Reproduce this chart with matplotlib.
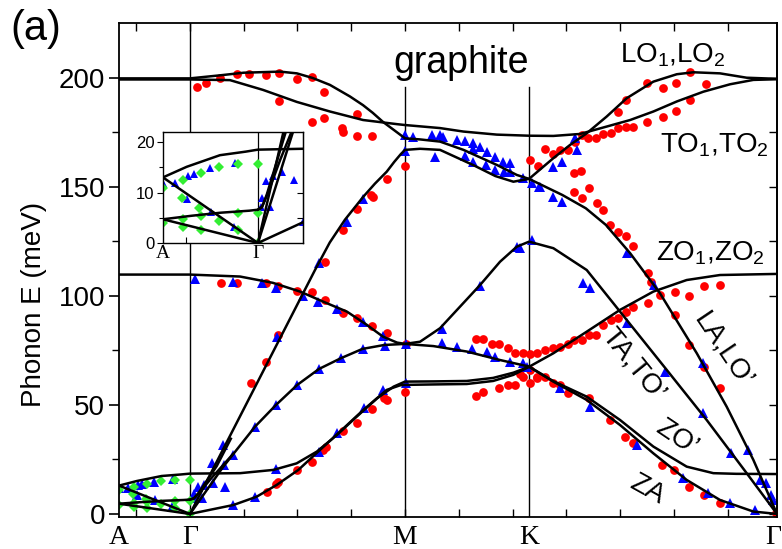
import numpy as np
import matplotlib
matplotlib.use('Agg')
import matplotlib.pyplot as plt

plt.rcParams['font.family'] = 'Liberation Sans'
plt.rcParams['mathtext.default'] = 'regular'

# high symmetry points along the path (Gamma-M = 1)
q_A, q_G, q_M, q_K, q_G2 = 0.0, 0.33, 1.33, 1.907, 3.06
pt_q = [q_A, q_G, q_M, q_K, 3.043]
pt_lab = ['A', 'Γ', 'M', 'K', 'Γ']

# calculated branches (black lines)
to_q = [0, 0.33, 0.516, 0.67, 0.827, 0.981, 1.135, 1.293, 1.33, 1.493, 1.602, 1.757, 1.907,
        2.02, 2.144, 2.268, 2.377, 2.485, 2.594, 2.718, 2.842, 2.95, 3.06]
to_E = [199.3, 199.3, 199.0, 194.5, 189.0, 184.6, 180.7, 178.8, 178.4, 177.0, 175.4, 174.0, 173.5,
        173.4, 174.3, 177.7, 180.7, 184.6, 189.2, 193.7, 197.1, 199.1, 199.4]

lo_q = [0, 0.33, 0.47, 0.58, 0.749, 0.827, 0.90, 0.981, 1.074, 1.135, 1.18, 1.228, 1.28, 1.33,
        1.40, 1.493, 1.602, 1.757, 1.85, 1.907, 2.062, 2.171, 2.264, 2.377, 2.516, 2.687, 2.826,
        2.95, 3.06]
lo_E = [199.8, 199.8, 201.2, 202.4, 202.9, 202.1, 200.0, 196.8, 191.5, 187.5, 184.0, 179.8, 176.0,
        172.3, 171.8, 170.8, 167.0, 160.1, 155.5, 153.7, 146.3, 140.2, 132.6, 119.6, 101.2, 73.7,
        49.2, 24.8, 0.0]

la_q = [0.33, 0.912, 0.98, 1.051, 1.136, 1.19, 1.245, 1.28, 1.31, 1.33, 1.40, 1.493, 1.648, 1.75,
        1.834, 1.907, 2.02, 2.098, 2.175, 2.268, 2.361, 2.485, 2.594, 2.671, 2.795, 2.919, 3.06]
la_E = [0, 112, 124.5, 135, 145.5, 151.5, 157, 161.5, 165, 167, 167.5, 167, 160, 155,
        152.4, 153.7, 163.2, 169.3, 174.6, 182.3, 190.7, 198.3, 201.7, 202.6, 202.1, 200.1, 199.6]

zo_q = [0, 0.33, 0.563, 0.716, 0.842, 0.949, 1.06, 1.153, 1.228, 1.293, 1.33, 1.40, 1.493, 1.586,
        1.679, 1.772, 1.85, 1.907, 2.02, 2.175, 2.361, 2.547, 2.733, 2.919, 3.06]
zo_E = [109.8, 109.8, 108.9, 106.0, 102.0, 97.4, 92.8, 86.7, 81.3, 78.6, 78.0, 79.0, 85.2, 95.1,
        105.0, 115.7, 122.6, 124.9, 121.9, 111.9, 89.0, 66.1, 43.1, 18.7, 0.0]

ta_q = [0.33, 0.485, 0.633, 0.73, 0.829, 0.93, 1.031, 1.132, 1.233, 1.33, 1.462, 1.617, 1.772,
        1.907, 2.02, 2.175, 2.33, 2.485, 2.64, 2.764, 2.87, 3.06]
ta_E = [0, 21.7, 40.1, 50, 59.2, 66.5, 71.4, 75.7, 77.5, 78, 77, 74.5, 70.6,
        67.6, 60.9, 53.8, 43.1, 30.9, 21.7, 18.7, 18.4, 18.3]

za_q = [0.33, 0.532, 0.64, 0.733, 0.834, 0.935, 1.028, 1.136, 1.245, 1.307, 1.33, 1.462, 1.617,
        1.74, 1.834, 1.907, 2.02, 2.175, 2.33, 2.485, 2.64, 2.795, 2.95, 3.06]
za_E = [0, 4.1, 7.9, 13.3, 20.2, 29.4, 37.8, 47.7, 56.9, 59.0, 59.2, 59.4, 59.6,
        61.0, 63.8, 67.5, 60.7, 52.3, 40.8, 27.8, 15.6, 6.4, 1.1, 0]

zop_q = [0, 0.0825, 0.198, 0.287, 0.33, 0.563, 0.718, 0.826, 0.92, 1.013, 1.105, 1.2, 1.277, 1.33,
         1.462, 1.617, 1.74, 1.834, 1.907, 2.02, 2.175, 2.33, 2.485, 2.64, 2.795, 3.06]
zop_E = [13.0, 15.1, 17.4, 18.1, 18.5, 18.7, 20.2, 23.2, 28.6, 36.2, 44.6, 53.0, 58.4, 60.7,
         60.8, 61.0, 62.4, 64.8, 67.5, 73.7, 83.6, 93.6, 102.0, 107.3, 109.6, 110.1]

# folded modes along A-Gamma
fa_q = [0, 0.33]
fa_E = [13.0, 0]
fb_q = [0, 0.33]
fb_E = [4.7, 0]
sh_q = [0, 0.1, 0.2, 0.3, 0.33, 0.347, 0.369, 0.454, 0.52]
sh_E = [4.7, 5.4, 6.0, 6.4, 6.6, 7.0, 9.5, 21.9, 34.5]
tp_q = [0.33, 0.35, 0.38, 0.43, 0.485, 0.53]
tp_E = [6.6, 7.3, 10.5, 16.5, 22.5, 27.5]

# measured points
red_q = [0.361, 0.405, 0.470, 0.547, 0.606, 0.684, 0.746, 0.746, 0.826, 0.896, 0.955, 0.955, 0.896,
         1.039, 1.043, 1.105, 1.105, 1.175,
         1.33, 1.245, 1.171, 1.183, 1.105, 1.043, 0.958, 0.741, 0.684, 0.612,
         0.474, 0.547, 0.684, 0.741, 0.829, 0.896, 0.958, 1.043, 1.105, 1.175, 1.245, 1.335,
         1.245, 1.23, 1.175, 1.105, 1.043, 0.963, 0.950, 0.896, 0.829, 0.741, 0.730, 0.687,
         1.33, 1.660, 1.695, 1.733, 1.769, 1.808, 1.842, 1.878, 1.912, 1.946, 1.981,
         1.660, 1.695, 1.769, 1.808, 1.842, 1.878, 1.912, 1.912, 1.946, 1.981,
         1.909, 1.950, 1.981, 2.017, 2.051, 2.087, 2.121, 2.152, 2.183, 2.219, 2.253, 2.287, 2.322,
         2.358, 2.392, 2.457, 2.529, 2.591, 2.656, 2.319, 2.358, 2.454, 2.529, 2.591, 2.656, 2.730,
         2.116, 2.149, 2.116, 2.152, 2.188, 2.222, 2.253, 2.284, 2.322, 2.358, 2.392, 2.459, 2.473,
         2.586, 2.653, 2.721, 2.795,
         2.017, 2.051, 2.087, 2.116, 2.152, 2.188, 2.219, 2.253, 2.287, 2.322, 2.358, 2.392, 2.459,
         2.516, 2.586, 2.653, 2.721, 2.795,
         1.865, 1.943, 2.017, 2.051, 2.087, 2.188, 2.284, 2.353, 2.392, 2.524, 2.579, 2.653, 2.721,
         2.795, 3.055]
red_E = [196.0, 197.9, 199.8, 201.8, 201.8, 201.4, 202.1, 189.4, 199.5, 200.3, 193.7, 181.5, 179.7,
         176.9, 175.4, 183.5, 173.5, 173.4,
         159.8, 153.7, 146.3, 145.3, 139.8, 130.3, 115.7, 82.1, 69.9, 59.9,
         106.1, 105.8, 105.8, 104.6, 102.4, 102.0, 98.2, 92.1, 90.1, 86.2, 83.2, 78.0,
         52.3, 53.1, 48.0, 41.9, 38.2, 30.9, 29.4, 24.0, 20.2, 14.8, 13.8, 10.2,
         56.1, 80.1, 80.1, 77.8, 77.8, 76.0, 73.7, 73.7, 73.4, 73.7, 75.2,
         54.1, 56.1, 57.9, 59.2, 59.2, 63.0, 60.0, 66.0, 63.0, 62.7,
         162.4, 159.8, 167.3, 165.0, 167.0, 167.0, 170.5, 173.8, 172.3, 172.3, 174.3, 174.6, 177.2,
         177.6, 177.6, 180.0, 182.3, 184.9, 189.9, 184.6, 189.9, 197.6, 195.3, 197.6, 202.6, 197.1,
         156.3, 157.3, 147.6, 145.1, 149.7, 142.5, 139.4, 132.6, 129.5, 127.5, 122.9, 110.4, 106.6,
         91.3, 77.5, 67.6, 57.7,
         76.0, 76.5, 78.0, 79.8, 79.8, 82.1, 82.1, 86.7, 89.0, 89.8, 92.8, 94.8, 96.9,
         100.5, 102.0, 100.0, 104.7, 105.0,
         64.2, 62.2, 60.0, 59.2, 55.4, 53.1, 43.1, 35.5, 32.7, 22.5, 20.2, 12.5, 8.7,
         4.9, 0.5]

blue_q = [0.353, 0.529, 0.664, 0.730, 0.857, 0.927, 1.013, 1.133, 1.229, 1.335,
          1.237, 1.133, 1.031, 0.930, 0.829, 0.730, 0.633, 0.532, 0.486, 0.431, 0.482, 0.385,
          0.493, 0.439,
          0.737, 0.932, 1.059, 1.136,
          0.532, 0.633, 0.730, 0.932, 1.013, 1.137, 1.229, 1.335,
          1.33, 1.369, 1.454, 1.493, 1.509, 1.574, 1.609, 1.645, 1.679, 1.713, 1.749, 1.788, 1.819,
          1.33, 1.470, 1.609, 1.648, 1.709, 1.749, 1.791, 1.819, 1.645, 1.881, 1.919, 1.955, 1.958,
          2.020, 2.059, 2.059, 2.020, 2.129, 2.121,
          1.501, 1.574, 1.64, 1.71, 1.749, 1.816, 1.881, 1.896, 1.501, 1.679, 1.85, 1.919,
          1.865, 2.159, 2.191, 2.364, 2.488, 2.364, 2.540, 2.714, 2.714, 2.845, 2.927, 2.981, 3.009,
          3.031, 3.040, 2.051, 2.191, 2.408, 2.625, 2.741, 2.842, 2.958,
          0.001, 0.042, 0.088, 0.108, 0.163, 0.25, 0.082, 0.166, 0.247,
          0.366, 0.396, 0.349, 0.345]
blue_E = [107.7, 106.6, 105.8, 103.5, 100.0, 97.4, 93.9, 88.2, 81.6, 78.0,
          77.1, 75.7, 71.4, 66.5, 59.2, 50.0, 40.1, 27.1, 22.5, 23.2, 31.6, 7.2,
          12.5, 14.1,
          81.3, 115.3, 134.1, 144.3,
          4.1, 7.9, 20.5, 28.6, 37.0, 48.5, 56.9, 60.0,
          173.9, 173.1, 173.9, 173.9, 173.1, 171.6, 171.2, 170.0, 168.5, 166.2, 163.9, 161.6, 160.9,
          166.5, 163.6, 164.2, 161.6, 160.1, 157.8, 157.0, 157.0, 167.3, 154.0, 151.7, 149.9, 150.1,
          145.6, 143.3, 161.6, 159.3, 167.0, 172.3,
          78.3, 76.8, 75.7, 74.5, 72.2, 69.9, 69.1, 67.3, 84.7, 104.6, 122.3, 125.7,
          121.9, 106.1, 103.5, 119.6, 105.0, 87.5, 65.3, 69.1, 46.2, 27.8, 29.4, 15.6, 14.1,
          8.7, 6.4, 57.7, 49.2, 31.6, 16.4, 9.5, 4.9, 1.8,
          11.8, 11.9, 13.3, 13.7, 14.8, 15.8, 8.8, 6.2, 3.1,
          12.3, 13.3, 9.0, 7.1]

green_q = [0.001, 0.068, 0.131, 0.195, 0.262, 0.329, 0.065, 0.126, 0.001, 0.068, 0.131, 0.195,
           0.262, 0.329, 0.068, 0.131, 0.262, 0.329]
green_E = [10.8, 12.5, 13.8, 15.1, 15.6, 15.6, 9.0, 6.9, 4.0, 4.8, 5.4, 4.4,
           6.0, 6.0, 3.2, 2.6, 2.6, 0.0]

branches = [(to_q, to_E), (lo_q, lo_E), (la_q, la_E), (zo_q, zo_E), (ta_q, ta_E),
            (za_q, za_E), (zop_q, zop_E), (fa_q, fa_E), (fb_q, fb_E), (sh_q, sh_E), (tp_q, tp_E)]


def draw(ax, ms=1.0):
    ax.plot(red_q, red_E, 'o', color='#ff0000', ms=6.3 * ms, mew=0, zorder=2)
    ax.plot(blue_q, blue_E, '^', color='#0000ff', ms=6.8 * ms, mew=0, zorder=2)
    ax.plot(green_q, green_E, 'D', color='#33ee33', ms=5.2 * ms, mew=0, zorder=2)
    for q, e in branches:
        ax.plot(q, e, color='black', lw=1.8, zorder=3, solid_joinstyle='round')


fig = plt.figure(figsize=(7.82, 5.49), dpi=100)
ax = fig.add_axes([0.1522, 0.0583, 0.8414, 0.8998])
draw(ax)

ax.set_xlim(0, 3.06)
ax.set_ylim(-1.4, 225.2)
ax.axvline(q_G, color='black', lw=1.0, zorder=1)
ax.axvline(q_M, ymax=0.87, color='black', lw=1.0, zorder=1)
ax.axvline(q_K, ymax=0.87, color='black', lw=1.0, zorder=1)

# ticks
xt = [q_G + 0.25 * k for k in range(-1, 11)]
ax.set_xticks(xt, labels=[''] * len(xt))
ax.tick_params(axis='x', direction='in', top=True, length=6, width=1.0)
ax.set_yticks([0, 50, 100, 150, 200])
ax.set_yticks([25, 75, 125, 175], minor=True)
ax.tick_params(axis='y', which='major', direction='out', length=7, width=1.2, labelsize=20, pad=3)
ax.tick_params(axis='y', which='minor', direction='out', length=5, width=1.0)
sec = ax.secondary_yaxis('right')
sec.set_yticks([0, 25, 50, 75, 100, 125, 150, 175, 200], labels=[''] * 9)
sec.tick_params(direction='in', length=6, width=1.0)
for s in ax.spines.values():
    s.set_linewidth(1.3)
sec.spines['right'].set_linewidth(1.3)

for q, lab in zip(pt_q, pt_lab):
    ax.text(q, -0.016, lab, transform=ax.get_xaxis_transform(), ha='center', va='top',
            fontsize=20, family='Liberation Serif')

ax.set_ylabel('Phonon E (meV)', fontsize=20)
ax.yaxis.set_label_coords(-0.109, 0.43)

fig.text(0.046, 0.947, '(a)', fontsize=30, ha='center', va='center')
ax.text(1.591, 207, 'graphite', fontsize=27, ha='center', va='center')
ax.text(2.577, 210.5, 'LO$_1$,LO$_2$', fontsize=20, ha='center', va='center')
ax.text(2.767, 169, 'TO$_1$,TO$_2$', fontsize=20, ha='center', va='center')
ax.text(2.749, 119.7, 'ZO$_1$,ZO$_2$', fontsize=20, ha='center', va='center')
ax.text(2.809, 75.2, 'LA,LO’', fontsize=20, ha='center', va='center', rotation=-56)
ax.text(2.391, 68.3, 'TA,TO’', fontsize=20, ha='center', va='center', rotation=-51)
ax.text(2.595, 34.9, 'ZO’', fontsize=20, ha='center', va='center', rotation=-34)
ax.text(2.456, 11.0, 'ZA', fontsize=20, ha='center', va='center', rotation=-29)

# inset: A-Gamma region, the part past Gamma is drawn compressed
k_in = 0.774


def fwd(x):
    x = np.asarray(x, dtype=float)
    return np.where(x <= q_G, x, q_G + (x - q_G) * k_in)


def inv(y):
    y = np.asarray(y, dtype=float)
    return np.where(y <= q_G, y, q_G + (y - q_G) / k_in)


axin = fig.add_axes([0.2084, 0.5574, 0.179, 0.2022])
axin.set_facecolor('white')
axin.set_xscale('function', functions=(fwd, inv))
draw(axin, ms=0.9)
axin.set_xlim(0, 0.532)
axin.set_ylim(0, 22)
axin.axvline(q_G, color='black', lw=0.9, zorder=1)
axin.set_xticks([0.08, q_G], labels=['', ''])
axin.tick_params(axis='x', direction='in', length=4, width=0.8)
axin.set_yticks([0, 10, 20])
axin.set_yticks([5, 15], minor=True)
axin.tick_params(axis='y', which='major', direction='out', length=4, width=0.8, labelsize=12, pad=2)
axin.tick_params(axis='y', which='minor', direction='out', length=3, width=0.8)
sec2 = axin.secondary_yaxis('right')
sec2.set_yticks([5, 10], labels=['', ''])
sec2.tick_params(direction='in', length=4, width=0.8)
for s in axin.spines.values():
    s.set_linewidth(1.0)
for q, lab in [(q_A, 'A'), (q_G, 'Γ')]:
    axin.text(q, -0.02, lab, transform=axin.get_xaxis_transform(), ha='center', va='top',
              fontsize=14, family='Liberation Serif')

fig.savefig('out.png', dpi=100)
